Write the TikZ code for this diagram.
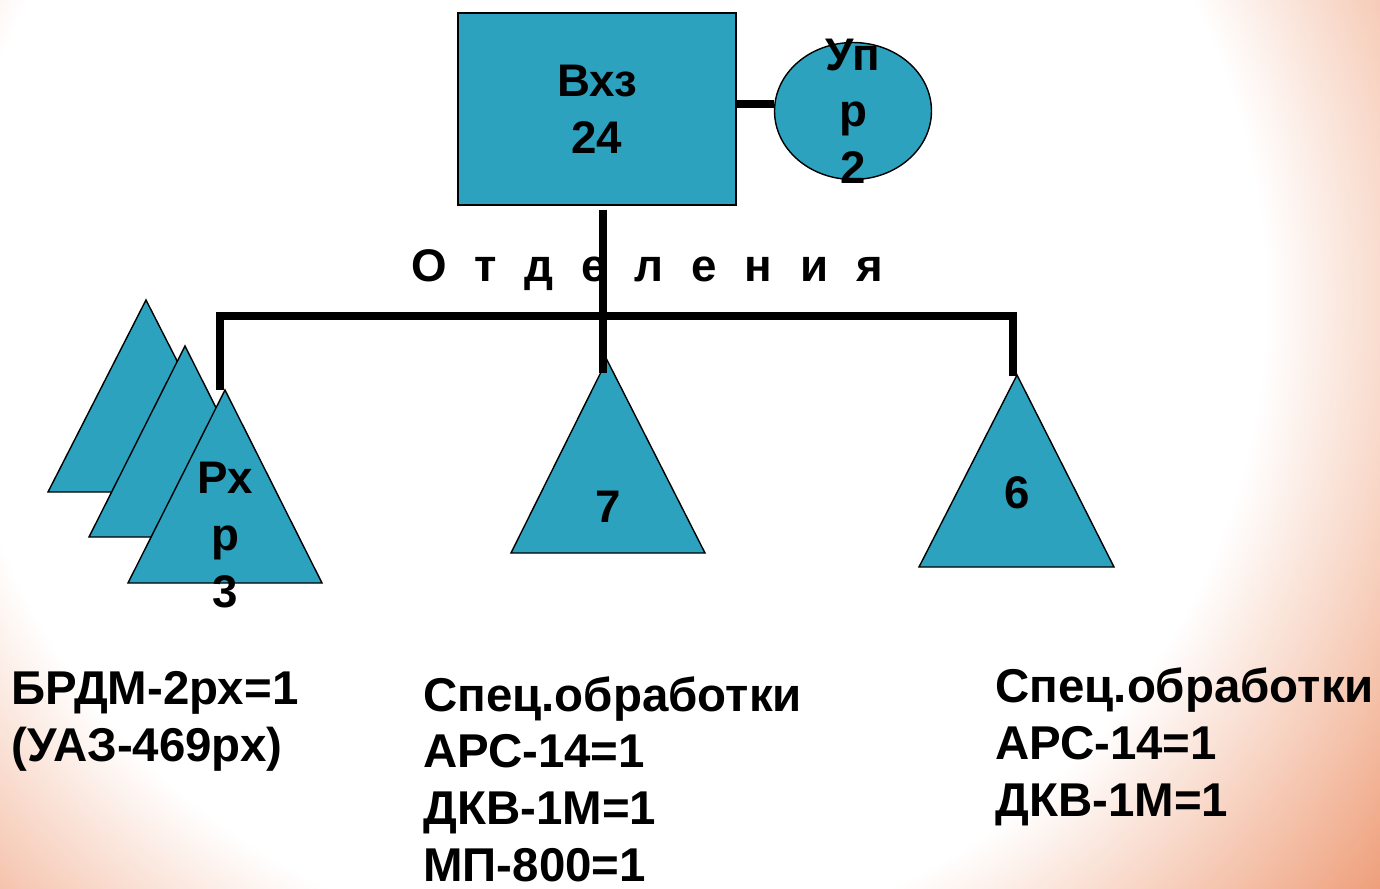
\documentclass[tikz,border=0pt]{standalone}
\usepackage{fontspec}
\setmainfont{Liberation Sans}
\usepackage{tikz}
\usepackage{xcolor}
\usetikzlibrary{shapes.geometric}

\definecolor{unitfill}{RGB}{44,162,191}
\definecolor{bgsalmon}{RGB}{238,156,118}
\pgfdeclareradialshading{bgglow}{\pgfpoint{0bp}{0bp}}{%
  color(0bp)=(white); color(20bp)=(white); color(30bp)=(bgsalmon); color(50bp)=(bgsalmon)}

\begin{document}
\begin{tikzpicture}[x=0.02cm,y=-0.02cm,
  unit/.style={draw=black,line width=0.8pt,fill=unitfill},
  link/.style={line width=4pt},
  lbl/.style={font=\bfseries\fontsize{26}{32.2}\selectfont,inner sep=0pt},
  eqlist/.style={font=\bfseries\fontsize{27}{32.2}\selectfont,inner sep=0pt,align=left,anchor=base west}]
\useasboundingbox (0,0) rectangle (1380,889);
\begin{scope}
  \clip (0,0) rectangle (1380,889);
  \shade[shading=bgglow] (-209,-512) rectangle (1429,1112);
\end{scope}
% head
\node [unit,lbl,align=center,minimum width=5.56cm,minimum height=3.84cm] (vkhz) at (597,109) {Вхз\\24};
\node [unit,ellipse,minimum width=3.14cm,minimum height=2.74cm] (upr) at (853,111) {};
\node [lbl,align=center] (uprtext) at (upr) {Уп\\р\\2};
% branches
\draw[unit] (146,300) -- ++(-98,192) -- ++(196,0) -- cycle;
\draw[unit] (185,346) -- ++(-96,191) -- ++(192,0) -- cycle;
\draw[unit] (225,390) -- ++(-97,193) -- ++(194,0) -- cycle;
\draw[unit] (607,360) -- ++(-96,193) -- ++(194,0) -- cycle;
\draw[unit] (1017,375) -- ++(-98,192) -- ++(195,0) -- cycle;
\node [lbl,align=center] (rkhr) at (225,535) {Рх\\р\\3};
\node [lbl,anchor=base] (n7) at (608,522) {7};
\node [lbl,anchor=base] (n6) at (1017,508) {6};
\coordinate (top) at (603,210);
\coordinate (fork) at (603,316);
\coordinate (a3) at (220,390);
\coordinate (a7) at (603,373);
\coordinate (a6) at (1013,376);
\draw[link] ([yshift=1mm]vkhz.east) -- ([yshift=1mm]vkhz.east -| upr.west);
\draw[link] (top) -- (a7);
\draw[link] (a3) -- (a3 |- fork) -- (a6 |- fork) -- (a6);
\node [lbl,anchor=base] (otd) at (647,281) {\spaceskip=0.61em\relax О т д е л е н и я};
% equipment
\node [eqlist] (eq3) at (11,761) {БРДМ-2рх=1\\(УАЗ-469рх)};
\node [eqlist] (eq7) at (423,881) {Спец.обработки\\АРС-14=1\\ДКВ-1М=1\\МП-800=1};
\node [eqlist] (eq6) at (995,816) {Спец.обработки\\АРС-14=1\\ДКВ-1М=1};
\end{tikzpicture}
\end{document}
